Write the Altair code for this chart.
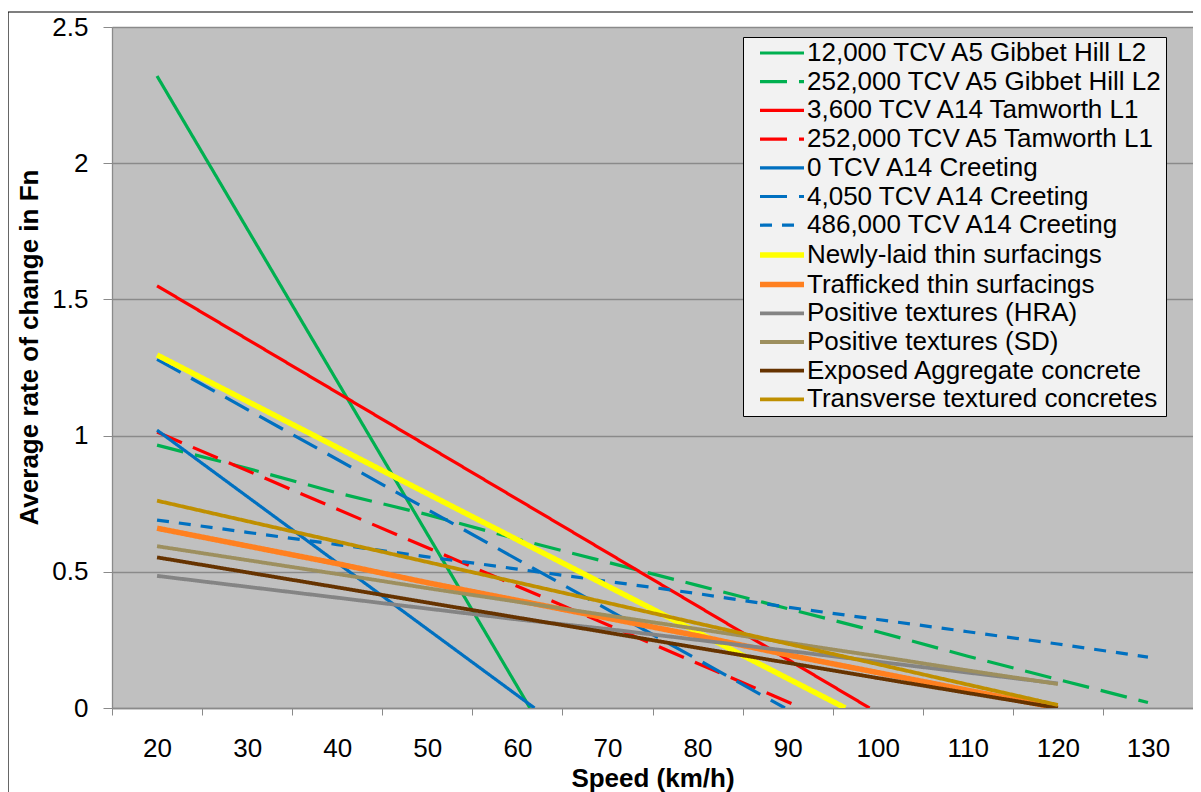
import altair as alt
import pandas as pd

# ---- data ----
series_names = [
    "12,000 TCV A5 Gibbet Hill L2",
    "252,000 TCV A5 Gibbet Hill L2",
    "3,600 TCV A14 Tamworth L1",
    "252,000 TCV A5 Tamworth L1",
    "0 TCV A14 Creeting",
    "4,050 TCV A14 Creeting",
    "486,000 TCV A14 Creeting",
    "Newly-laid thin surfacings",
    "Trafficked thin surfacings",
    "Positive textures (HRA)",
    "Positive textures (SD)",
    "Exposed Aggregate concrete",
    "Transverse textured concretes",
]

speeds_20_130 = [20, 30, 40, 50, 60, 70, 80, 90, 100, 110, 120, 130]
speeds_20_120 = [20, 30, 40, 50, 60, 70, 80, 90, 100, 110, 120]

gibbet_12000_speed = [20, 61.4]
gibbet_12000_value = [2.32, 0.0]
gibbet_252000_value = [0.965, 0.88, 0.79, 0.71, 0.62, 0.535, 0.45, 0.365, 0.28, 0.19, 0.105, 0.02]
tamworth_3600_speed = [20, 99.1]
tamworth_3600_value = [1.55, 0.0]
tamworth_252000_speed = [20, 91.6]
tamworth_252000_value = [1.013, 0.0]
creeting_0_speed = [20, 61.9]
creeting_0_value = [1.02, 0.0]
creeting_4050_speed = [20, 89.7]
creeting_4050_value = [1.28, 0.0]
creeting_486000_value = [0.69, 0.645, 0.60, 0.555, 0.51, 0.465, 0.42, 0.37, 0.325, 0.28, 0.235, 0.187]
newly_laid_speed = [20, 96.4]
newly_laid_value = [1.296, 0.0]
trafficked_value = [0.66, 0.595, 0.53, 0.46, 0.395, 0.33, 0.265, 0.195, 0.13, 0.065, 0.0]
hra_value = [0.485, 0.445, 0.405, 0.365, 0.325, 0.29, 0.25, 0.21, 0.17, 0.13, 0.09]
sd_value = [0.594, 0.543, 0.492, 0.44, 0.39, 0.34, 0.29, 0.24, 0.19, 0.138, 0.088]
exposed_value = [0.553, 0.498, 0.443, 0.387, 0.332, 0.277, 0.221, 0.166, 0.11, 0.055, 0.0]
transverse_value = [0.761, 0.686, 0.611, 0.536, 0.461, 0.386, 0.311, 0.236, 0.161, 0.086, 0.011]

series_colors = ["#00b050", "#00b050", "#ff0000", "#ff0000", "#0070c0", "#0070c0", "#0070c0",
                 "#ffff00", "#ff8020", "#848484", "#9d8f5e", "#663300", "#bf8f00"]
series_dash = [[1, 0], [27, 12], [1, 0], [27, 12], [1, 0], [27, 12], [12, 10],
               [1, 0], [1, 0], [1, 0], [1, 0], [1, 0], [1, 0]]
series_width = [3.2, 3.2, 3.2, 3.2, 3.2, 3.2, 3.2, 5.5, 5.5, 3.8, 3.8, 3.8, 3.8]

x_tick_labels = [20, 30, 40, 50, 60, 70, 80, 90, 100, 110, 120, 130]
y_ticks = [0, 0.5, 1, 1.5, 2, 2.5]

# ---- build long table ----
pairs = [
    (gibbet_12000_speed, gibbet_12000_value),
    (speeds_20_130, gibbet_252000_value),
    (tamworth_3600_speed, tamworth_3600_value),
    (tamworth_252000_speed, tamworth_252000_value),
    (creeting_0_speed, creeting_0_value),
    (creeting_4050_speed, creeting_4050_value),
    (speeds_20_130, creeting_486000_value),
    (newly_laid_speed, newly_laid_value),
    (speeds_20_120, trafficked_value),
    (speeds_20_120, hra_value),
    (speeds_20_120, sd_value),
    (speeds_20_120, exposed_value),
    (speeds_20_120, transverse_value),
]
rows = []
for name, (xs, ys) in zip(series_names, pairs):
    for sx, sy in zip(xs, ys):
        rows.append({"series": name, "speed": sx, "value": sy})
df = pd.DataFrame(rows)

FONT = "Liberation Sans"
GRID = "#8a8a8a"

frame = alt.Chart(pd.DataFrame({"a": [0]})).mark_rect(
    fillOpacity=0, stroke="black", strokeWidth=1.2
).encode(
    x=alt.value(-104), x2=alt.value(1400), y=alt.value(-15), y2=alt.value(1200)
)

lines = alt.Chart(df).mark_line(clip=True).encode(
    x=alt.X(
        "speed:Q",
        scale=alt.Scale(domain=[15, 135], nice=False, zero=False),
        axis=alt.Axis(
            values=x_tick_labels + [140],
            tickOffset=-45.04,
            labelOffset=45.04,
            labelExpr="datum.value > 130 ? '' : datum.label",
            tickSize=7,
            tickColor=GRID,
            domainColor=GRID,
            domainWidth=1.3,
            grid=False,
            labelFontSize=26,
            labelFont=FONT,
            labelColor="black",
            labelPadding=20,
            labelBaseline="top",
            title="Speed (km/h)",
            titleFont=FONT,
            titleFontSize=26,
            titleFontWeight="bold",
            titleColor="black",
            titleBaseline="top",
            titleY=57,
        ),
    ),
    y=alt.Y(
        "value:Q",
        scale=alt.Scale(domain=[0, 2.5], nice=False),
        axis=alt.Axis(
            values=y_ticks,
            format="~g",
            tickSize=9,
            tickColor=GRID,
            domainColor=GRID,
            domainWidth=1.3,
            gridColor=GRID,
            gridWidth=1.3,
            labelFontSize=26,
            labelFont=FONT,
            labelColor="black",
            labelPadding=15,
            title="Average rate of change in Fn",
            titleFont=FONT,
            titleFontSize=26,
            titleFontWeight="bold",
            titleColor="black",
            titleAngle=270,
            titleBaseline="middle",
            titleX=-83,
            titleY=320,
        ),
    ),
    color=alt.Color(
        "series:N",
        scale=alt.Scale(domain=series_names, range=series_colors),
        sort=series_names,
        legend=alt.Legend(
            title=None,
            orient="none",
            legendX=631,
            legendY=10,
            fillColor="#f2f2f2",
            strokeColor="black",
            padding=3,
            symbolOffset=22,
            symbolType="M-2,0H2",
            symbolSize=484,
            labelFont=FONT,
            labelFontSize=26,
            labelColor="black",
            labelLimit=600,
            labelOffset=11,
            rowPadding=2.7,
        ),
    ),
    strokeDash=alt.StrokeDash(
        "series:N",
        scale=alt.Scale(domain=series_names, range=series_dash),
        sort=series_names,
        legend=alt.Legend(title=None),
    ),
    strokeWidth=alt.StrokeWidth(
        "series:N",
        scale=alt.Scale(type="ordinal", domain=series_names, range=series_width),
        sort=series_names,
        legend=alt.Legend(title=None),
    ),
)

chart = alt.layer(frame, lines).properties(
    width=1081,
    height=681,
    autosize=alt.AutoSizeParams(type="none"),
    padding={"left": 104, "top": 19, "right": 0, "bottom": 84},
    background="white",
).configure_view(fill="#c0c0c0", strokeWidth=0)

chart.save("out.html", embed_options={"renderer": "svg", "actions": False})
